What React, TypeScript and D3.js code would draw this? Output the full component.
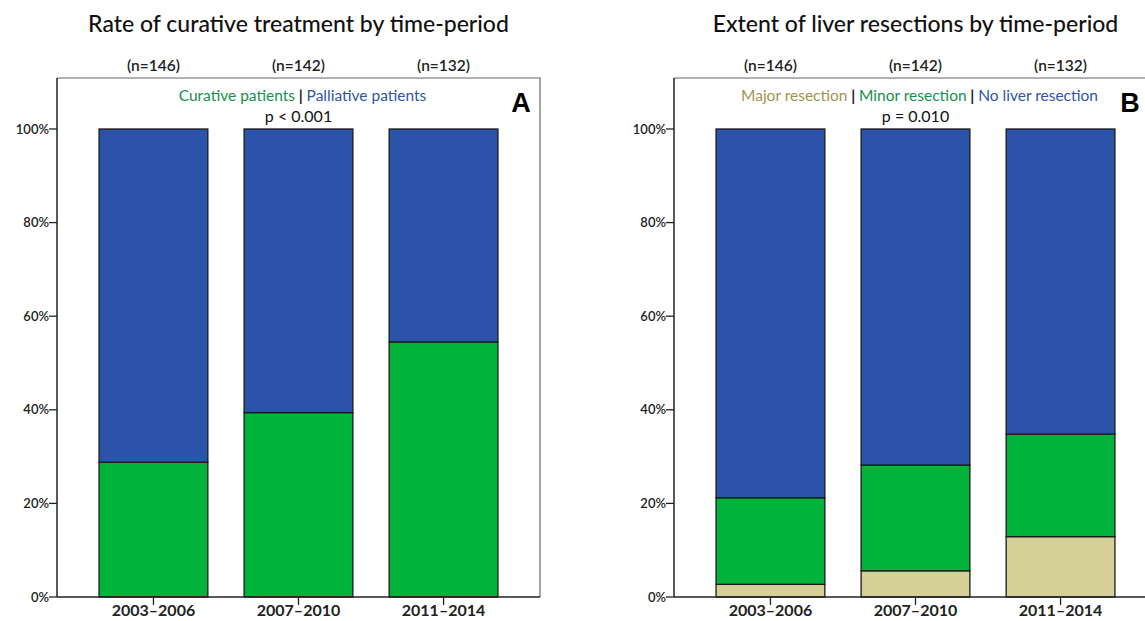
import React from 'react'
import * as d3 from 'd3'

const periods = ['2003-2006', '2007-2010', '2011-2014']
const counts = ['(n=146)', '(n=142)', '(n=132)']
const yTicks = [0, 20, 40, 60, 80, 100]

// panel A, percent of patients
const curative = [28.8, 39.4, 54.5]
const palliative = [71.2, 60.6, 45.5]

// panel B, percent of patients
const majorResection = [2.7, 5.6, 12.9]
const minorResection = [18.5, 22.6, 21.9]
const noResection = [78.8, 71.8, 65.2]

const FONT = 'Lato, "Open Sans", sans-serif'
const BLUE = '#2b53a9'
const GREEN = '#00b33b'
const TAN = '#d5cf98'

const panelA = {
  title: 'Rate of curative treatment by time-period',
  letter: 'A',
  pText: 'p < 0.001',
  series: [
    { key: 'curative', values: curative, fill: GREEN },
    { key: 'palliative', values: palliative, fill: BLUE },
  ],
  legend: [
    { text: 'Curative patients', color: '#14914a' },
    { text: ' | ', color: '#222' },
    { text: 'Palliative patients', color: '#2d56a3' },
  ],
}

const panelB = {
  title: 'Extent of liver resections by time-period',
  letter: 'B',
  pText: 'p = 0.010',
  series: [
    { key: 'major', values: majorResection, fill: TAN },
    { key: 'minor', values: minorResection, fill: GREEN },
    { key: 'none', values: noResection, fill: BLUE },
  ],
  legend: [
    { text: 'Major resection', color: '#9d9650' },
    { text: ' | ', color: '#222' },
    { text: 'Minor resection', color: '#14914a' },
    { text: ' | ', color: '#222' },
    { text: 'No liver resection', color: '#2d56a3' },
  ],
}

const Panel = ({ panel, left, letterX }) => {
  const top = 78
  const bottom = 597
  const right = left + 483

  const x = d3
    .scaleBand()
    .domain(periods)
    .range([left, right])
    .paddingInner(0.25)
    .paddingOuter(0.29)
  const y = d3.scaleLinear().domain([0, 100]).range([bottom, 129])

  const rows = periods.map((p, i) => {
    const row = { period: p }
    panel.series.forEach(s => (row[s.key] = s.values[i]))
    return row
  })
  const stacked = d3.stack().keys(panel.series.map(s => s.key))(rows)
  const mid = (left + right) / 2

  return (
    <g fontFamily={FONT}>
      <text x={mid} y={32} textAnchor="middle" fontSize={23} fontWeight={500} fill="#111">
        {panel.title}
      </text>
      {periods.map((p, i) => (
        <text
          key={p}
          x={x(p) + x.bandwidth() / 2}
          y={71}
          textAnchor="middle"
          fontSize={15.5}
          fontWeight={600}
          fill="#222"
        >
          {counts[i]}
        </text>
      ))}

      {/* frame */}
      <path
        d={`M${left},${top}H${right}V${bottom}`}
        fill="none"
        stroke="#666"
        strokeWidth={1.2}
      />

      {stacked.map((layer, li) =>
        layer.map((d, i) => (
          <rect
            key={`${layer.key}-${i}`}
            x={x(periods[i])}
            y={y(d[1])}
            width={x.bandwidth()}
            height={y(d[0]) - y(d[1])}
            fill={panel.series[li].fill}
            stroke="#1a1a1a"
            strokeWidth={1.3}
          />
        ))
      )}

      <text x={mid + 4} y={101} textAnchor="middle" fontSize={15.5}>
        {panel.legend.map((l, i) => (
          <tspan key={i} fill={l.color} fontWeight={l.text === ' | ' ? 700 : 400}>
            {l.text}
          </tspan>
        ))}
      </text>
      <text x={mid} y={122} textAnchor="middle" fontSize={16} fill="#111">
        {panel.pText}
      </text>
      <text
        x={letterX}
        y={112}
        textAnchor="middle"
        fontSize={27}
        fontWeight={700}
        fontFamily='"Liberation Sans", Arial, sans-serif'
        fill="#000"
      >
        {panel.letter}
      </text>

      {/* y axis */}
      <line x1={left} x2={left} y1={top} y2={bottom} stroke="#222" strokeWidth={1.5} />
      {yTicks.map(t => (
        <g key={t}>
          <line x1={left - 8} x2={left} y1={y(t)} y2={y(t)} stroke="#222" strokeWidth={1.3} />
          <text
            x={left - 8}
            y={y(t)}
            dy="0.35em"
            textAnchor="end"
            fontSize={13}
            fontWeight={600}
            fill="#222"
          >
            {t}%
          </text>
        </g>
      ))}

      {/* x axis */}
      <line x1={left} x2={right} y1={bottom} y2={bottom} stroke="#222" strokeWidth={1.5} />
      {periods.map(p => (
        <g key={p}>
          <line
            x1={x(p) + x.bandwidth() / 2}
            x2={x(p) + x.bandwidth() / 2}
            y1={bottom}
            y2={bottom + 8}
            stroke="#222"
            strokeWidth={1.3}
          />
          <text
            x={x(p) + x.bandwidth() / 2}
            y={616}
            textAnchor="middle"
            fontSize={16}
            fontWeight={700}
            fill="#222"
          >
            {p.replace('-', '\u2013')}
          </text>
        </g>
      ))}
    </g>
  )
}

const App = () => (
  <svg
    width={1145}
    height={621}
    style={{ position: 'absolute', left: 0, top: 0, background: '#fff' }}
  >
    <rect width={1145} height={621} fill="#fff" />
    <Panel panel={panelA} left={57} letterX={521} />
    <Panel panel={panelB} left={674} letterX={1130} />
  </svg>
)

export default App
